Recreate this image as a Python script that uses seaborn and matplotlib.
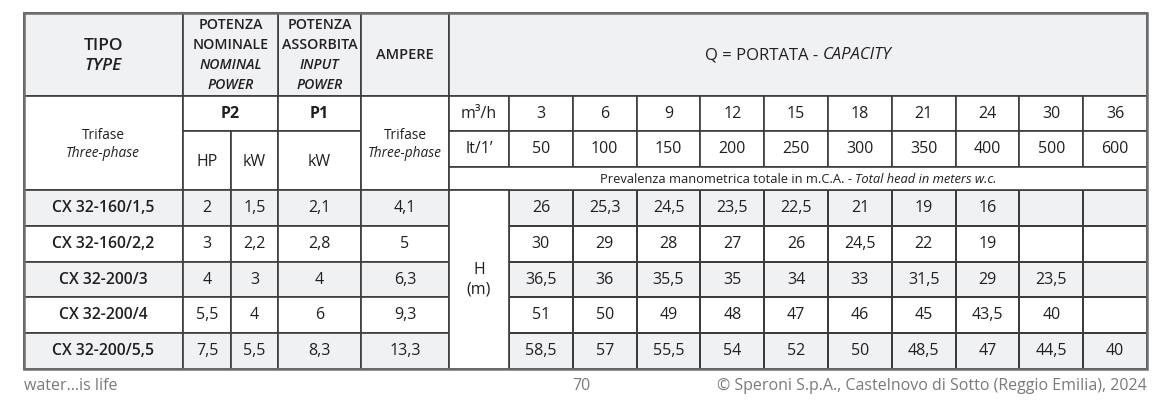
import numpy as np
import matplotlib
matplotlib.use('Agg')
import matplotlib.pyplot as plt
from matplotlib.colors import ListedColormap
from matplotlib.patches import Rectangle
import seaborn as sns

# table content
models = ['CX 32-160/1,5', 'CX 32-160/2,2', 'CX 32-200/3', 'CX 32-200/4', 'CX 32-200/5,5']
p2_hp = ['2', '3', '4', '5,5', '7,5']
p2_kw = ['1,5', '2,2', '3', '4', '5,5']
p1_kw = ['2,1', '2,8', '4', '6', '8,3']
ampere = ['4,1', '5', '6,3', '9,3', '13,3']
q_m3h = [3, 6, 9, 12, 15, 18, 21, 24, 30, 36]
q_lmin = [50, 100, 150, 200, 250, 300, 350, 400, 500, 600]
head_160_15 = [26, 25.3, 24.5, 23.5, 22.5, 21, 19, 16, None, None]
head_160_22 = [30, 29, 28, 27, 26, 24.5, 22, 19, None, None]
head_200_3 = [36.5, 36, 35.5, 35, 34, 33, 31.5, 29, 23.5, None]
head_200_4 = [51, 50, 49, 48, 47, 46, 45, 43.5, 40, None]
head_200_55 = [58.5, 57, 55.5, 54, 52, 50, 48.5, 47, 44.5, 40]

GRAY = '#f0f1f3'
LINE = '#3c3c3c'
TXT = '#231f20'
FOOT = '#7a7a7a'

sns.set_theme(style='white')
plt.rcParams['font.family'] = ['Open Sans', 'DejaVu Sans']


def fmt(v):
    return '' if v is None else f'{v:g}'.replace('.', ',')


W, H = 1171, 419
fig = plt.figure(figsize=(W / 100, H / 100), dpi=100)

# column / row edges in pixels
cx = [24, 183, 231, 278, 361, 449, 509]
data_x0, data_x1 = 509, 1147
ry = [13, 96, 131, 167, 190, 369]

# body values as heatmap
heads = [head_160_15, head_160_22, head_200_3, head_200_4, head_200_55]
labels = np.array([[fmt(v) for v in row] for row in heads])
shade = np.array([[i % 2] * len(q_m3h) for i in range(len(heads))])
hax = fig.add_axes([data_x0 / W, 1 - ry[5] / H, (data_x1 - data_x0) / W, (ry[5] - ry[4]) / H])
sns.heatmap(shade, annot=labels, fmt='', cmap=ListedColormap([GRAY, 'white']), vmin=0, vmax=1,
            cbar=False, linewidths=1.2, linecolor=LINE, ax=hax,
            annot_kws=dict(fontsize=11.5, color=TXT))
hax.set_xticks([])
hax.set_yticks([])
hax.set_zorder(0)

ax = fig.add_axes([0, 0, 1, 1])
ax.set_xlim(0, W)
ax.set_ylim(H, 0)
ax.axis('off')
ax.set_zorder(1)


def cell(x0, x1, y0, y1, fill='white', lw=1.2):
    ax.add_patch(Rectangle((x0, y0), x1 - x0, y1 - y0, facecolor=fill, edgecolor=LINE, lw=lw, zorder=1))


def txt(x, y, s, size=11.5, **kw):
    kw.setdefault('color', TXT)
    ax.text(x, y, s, fontsize=size, ha='center', va='center', zorder=3, **kw)


def mixed(xc, y, parts, size=11.5):
    r = fig.canvas.get_renderer()
    objs = []
    for s, st in parts:
        t = ax.text(0, y, s, fontsize=size, style=st, color=TXT, ha='left', va='center', zorder=3)
        objs.append(t)
    widths = [t.get_window_extent(r).width for t in objs]
    x = xc - sum(widths) / 2
    for t, w in zip(objs, widths):
        t.set_x(x)
        x += w


# header row
for x0, x1 in zip(cx[:-2], cx[1:-1]):
    if x0 == 183:
        continue
    cell(x0, x1, ry[0], ry[1], GRAY)
cell(183, 278, ry[0], ry[1], GRAY)
cell(449, data_x1, ry[0], ry[1], GRAY)

txt(103, 46, 'TIPO', 12.5, weight='semibold')
txt(103, 66, 'TYPE', 12.5, weight='semibold', style='italic')
for x, lines in [(230.5, ['POTENZA', 'NOMINALE', 'NOMINAL', 'POWER']),
                 (319.5, ['POTENZA', 'ASSORBITA', 'INPUT', 'POWER'])]:
    for i, s in enumerate(lines):
        txt(x, 25 + 20 * i, s, 10.2, weight='semibold', style='italic' if i > 1 else 'normal')
txt(405, 55, 'AMPERE', 10.5, weight='semibold')
mixed((449 + data_x1) / 2, 55, [('Q = PORTATA - ', 'normal'), ('CAPACITY', 'italic')], 12)

# sub-header rows
cell(24, 183, ry[1], ry[4])
txt(103, 135, 'Trifase', 9.8)
txt(103, 153, 'Three-phase', 9.8, style='italic')
cell(183, 278, ry[1], ry[2])
txt(230.5, 114, 'P2', 11.5, weight='bold')
cell(278, 361, ry[1], ry[2])
txt(319.5, 114, 'P1', 11.5, weight='bold')
cell(183, 231, ry[2], ry[4])
txt(207, 162, 'HP', 11.5)
cell(231, 278, ry[2], ry[4])
txt(254.5, 162, 'kW', 11.5)
cell(278, 361, ry[2], ry[4])
txt(319.5, 162, 'kW', 11.5)
cell(361, 449, ry[1], ry[4])
txt(405, 135, 'Trifase', 9.8)
txt(405, 153, 'Three-phase', 9.8, style='italic')

qw = (data_x1 - data_x0) / len(q_m3h)
cell(449, 509, ry[1], ry[2])
txt(479, 114, 'm³/h', 11.5)
cell(449, 509, ry[2], ry[3])
txt(479, 149, 'lt/1\u2019', 11.5)
for i, (a, b) in enumerate(zip(q_m3h, q_lmin)):
    x0 = data_x0 + i * qw
    cell(x0, x0 + qw, ry[1], ry[2])
    txt(x0 + qw / 2, 114, str(a), 11.5)
    cell(x0, x0 + qw, ry[2], ry[3])
    txt(x0 + qw / 2, 149, str(b), 11.5)
cell(449, data_x1, ry[3], ry[4])
mixed((449 + data_x1) / 2, 179, [('Prevalenza manometrica totale in m.C.A. - ', 'normal'),
                                  ('Total head in meters w.c.', 'italic')], 9.3)

# left body columns
rh = (ry[5] - ry[4]) / len(models)
for i in range(len(models)):
    y0 = ry[4] + i * rh
    fill = GRAY if i % 2 == 0 else 'white'
    vals = [models[i], p2_hp[i], p2_kw[i], p1_kw[i], ampere[i]]
    for j, v in enumerate(vals):
        cell(cx[j], cx[j + 1], y0, y0 + rh, fill)
        if j == 0:
            txt((cx[j] + cx[j + 1]) / 2, y0 + rh / 2, v, 11.3, weight='semibold')
        else:
            txt((cx[j] + cx[j + 1]) / 2, y0 + rh / 2, v, 11.5)
cell(449, 509, ry[4], ry[5])
txt(479, 270, 'H', 11.5)
txt(479, 289, '(m)', 11.5)

# outer border
ax.add_patch(Rectangle((24, 13), data_x1 - 24, ry[5] - 13, facecolor='none', edgecolor='#6e6e6e', lw=1.8, zorder=2))

# footer
ax.text(24, 386, 'water...is life', fontsize=11.5, color=FOOT, ha='left', va='center')
ax.text(581, 386, '70', fontsize=11.5, color=FOOT, ha='center', va='center')
ax.text(1147, 386, '© Speroni S.p.A., Castelnovo di Sotto (Reggio Emilia), 2024', fontsize=11.5,
        color=FOOT, ha='right', va='center')

fig.savefig('out.png', dpi=100, facecolor='white')
